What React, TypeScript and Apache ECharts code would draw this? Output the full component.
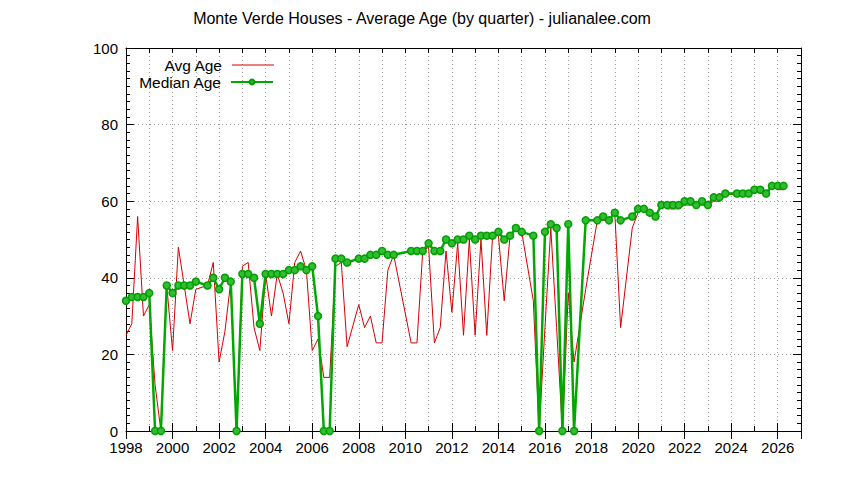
import React, { useEffect, useRef } from 'react';
import * as echarts from 'echarts';

// Quarter (decimal year) of each data point; quarters without sales are absent
const quarters = [
  1998, 1998.25, 1998.5, 1998.75,
  1999, 1999.25, 1999.5, 1999.75,
  2000, 2000.25, 2000.5, 2000.75,
  2001, 2001.5, 2001.75,
  2002, 2002.25, 2002.5, 2002.75,
  2003, 2003.25, 2003.5, 2003.75,
  2004, 2004.25, 2004.5, 2004.75,
  2005, 2005.25, 2005.5, 2005.75,
  2006, 2006.25, 2006.5, 2006.75,
  2007, 2007.25, 2007.5,
  2008, 2008.25, 2008.5, 2008.75,
  2009, 2009.25, 2009.5,
  2010.25, 2010.5, 2010.75,
  2011, 2011.25, 2011.5, 2011.75,
  2012, 2012.25, 2012.5, 2012.75,
  2013, 2013.25, 2013.5, 2013.75,
  2014, 2014.25, 2014.5, 2014.75,
  2015, 2015.5, 2015.75,
  2016, 2016.25, 2016.5, 2016.75,
  2017, 2017.25, 2017.75,
  2018.25, 2018.5, 2018.75,
  2019, 2019.25, 2019.75,
  2020, 2020.25, 2020.5, 2020.75,
  2021, 2021.25, 2021.5, 2021.75,
  2022, 2022.25, 2022.5, 2022.75,
  2023, 2023.25, 2023.5, 2023.75,
  2024.25, 2024.5, 2024.75,
  2025, 2025.25, 2025.5, 2025.75,
  2026, 2026.25,
];

const medianAge = [
  34, 35, 35, 35,
  36, 0, 0, 38,
  36, 38, 38, 38,
  39, 38, 40,
  37, 40, 39, 0,
  41, 41, 40, 28,
  41, 41, 41, 41,
  42, 42, 43, 42,
  43, 30, 0, 0,
  45, 45, 44,
  45, 45, 46, 46,
  47, 46, 46,
  47, 47, 47,
  49, 47, 47, 50,
  49, 50, 50, 51,
  50, 51, 51, 51,
  52, 50, 51, 53,
  52, 51, 0,
  52, 54, 53, 0,
  54, 0, 55,
  55, 56, 55,
  57, 55, 56,
  58, 58, 57, 56,
  59, 59, 59, 59,
  60, 60, 59, 60,
  59, 61, 61, 62,
  62, 62, 62,
  63, 63, 62, 64,
  64, 64,
];

const avgAge = [
  25, 28, 56, 30,
  33, 12, 0, 38,
  21, 48, 38, 28,
  37, 38, 44,
  18, 26, 39, 0,
  43, 44, 27, 21,
  41, 30, 41, 36,
  28, 44, 47, 42,
  21, 24, 14, 14,
  43, 44, 22,
  33, 27, 30, 23,
  23, 42, 46,
  23, 23, 47,
  48, 23, 27, 47,
  31, 49, 25, 50,
  25, 50, 25, 51,
  51, 34, 51, 53,
  52, 34, 0,
  27, 53, 27, 0,
  36, 18, 37,
  55, 55, 55,
  57, 27, 53,
  57, 58, 57, 56,
  59, 58, 58, 58,
  59, 59, 59, 59,
  59, 60, 60, 62,
  61.5, 62, 62,
  62.5, 63, 61.5, 64,
  63, 63,
];

const titleText = 'Monte Verde Houses - Average Age (by quarter) - julianalee.com';
const seriesNames = ['Avg Age', 'Median Age'];

export default function App() {
  const ref = useRef<HTMLDivElement>(null);

  useEffect(() => {
    document.body.style.margin = '0';
    const chart = echarts.init(ref.current!, null, { renderer: 'svg' });
    const font = '"Liberation Sans", Arial, sans-serif';
    const black = '#000000';
    const red = '#d40000';
    const green = '#00a800';
    const dotted = { show: true, lineStyle: { color: '#a0a0a0', type: [1, 3], width: 1 } };
    const hidden = { show: false };
    const xCommon = { type: 'value', min: 1998, max: 2027 };
    const yCommon = { type: 'value', min: 0, max: 100, interval: 20 };
    const axisLine = { show: true, onZero: false, lineStyle: { color: black, width: 1 } };
    const legendText = { fontSize: 15.5, fontFamily: font, color: black, padding: [0, 5, 0, 0] };

    const avgData = quarters.map((q, i) => [q, avgAge[i]]);
    const medData = quarters.map((q, i) => [q, medianAge[i]]);

    chart.setOption({
      animation: false,
      backgroundColor: '#ffffff',
      title: {
        text: titleText,
        left: 'center',
        top: 10,
        padding: 0,
        textStyle: { fontSize: 16, fontWeight: 'normal', fontFamily: font, color: black },
      },
      legend: [
        {
          data: [{ name: seriesNames[0], icon: 'rect', itemStyle: { color: red } }],
          right: 570,
          top: 57,
          align: 'right',
          itemWidth: 42,
          itemHeight: 1.2,
          padding: 0,
          selectedMode: false,
          textStyle: legendText,
        },
        {
          data: [seriesNames[1]],
          right: 570,
          top: 74,
          align: 'right',
          itemWidth: 42,
          itemHeight: 6,
          padding: 0,
          selectedMode: false,
          textStyle: legendText,
        },
      ],
      grid: { left: 126, right: 43, top: 48, bottom: 49, containLabel: false },
      xAxis: [
        {
          ...xCommon,
          position: 'bottom',
          interval: 1,
          axisLine,
          axisTick: { show: true, inside: true, length: 5, lineStyle: { color: black } },
          axisLabel: {
            show: true,
            margin: 9,
            fontSize: 15,
            fontFamily: font,
            color: black,
            formatter: (v: number) => (v % 2 === 0 && v <= 2026 ? String(v) : ''),
          },
          splitLine: dotted,
        },
        {
          ...xCommon,
          position: 'bottom',
          interval: 2,
          axisLine: hidden,
          axisTick: { show: true, inside: true, length: 8, lineStyle: { color: black } },
          axisLabel: hidden,
          splitLine: hidden,
        },
        {
          ...xCommon,
          position: 'top',
          interval: 1,
          axisLine,
          axisTick: { show: true, inside: true, length: 5, lineStyle: { color: black } },
          axisLabel: hidden,
          splitLine: hidden,
        },
        {
          ...xCommon,
          position: 'top',
          interval: 2,
          axisLine: hidden,
          axisTick: { show: true, inside: true, length: 8, lineStyle: { color: black } },
          axisLabel: hidden,
          splitLine: hidden,
        },
      ],
      yAxis: [
        {
          ...yCommon,
          position: 'left',
          axisLine,
          axisTick: { show: true, inside: true, length: 8, lineStyle: { color: black } },
          minorTick: { show: true, splitNumber: 10, length: 4, lineStyle: { color: black } },
          axisLabel: { show: true, margin: 8, fontSize: 15, fontFamily: font, color: black },
          splitLine: dotted,
        },
        {
          ...yCommon,
          position: 'right',
          axisLine,
          axisTick: { show: true, inside: true, length: 8, lineStyle: { color: black } },
          minorTick: { show: true, splitNumber: 10, length: 4, lineStyle: { color: black } },
          axisLabel: hidden,
          splitLine: hidden,
        },
      ],
      series: [
        {
          name: seriesNames[0],
          type: 'line',
          xAxisIndex: 0,
          yAxisIndex: 0,
          data: avgData,
          symbol: 'none',
          lineStyle: { color: red, width: 1 },
          itemStyle: { color: red },
          z: 2,
        },
        {
          name: seriesNames[1],
          type: 'line',
          xAxisIndex: 0,
          yAxisIndex: 0,
          data: medData,
          symbol: 'circle',
          symbolSize: 7,
          showSymbol: true,
          lineStyle: { color: green, width: 2.5 },
          itemStyle: { color: '#33bb33', borderColor: '#009f00', borderWidth: 1.5 },
          z: 3,
        },
      ],
    });
    return () => chart.dispose();
  }, []);

  return <div ref={ref} style={{ width: 844, height: 480 }} />;
}
